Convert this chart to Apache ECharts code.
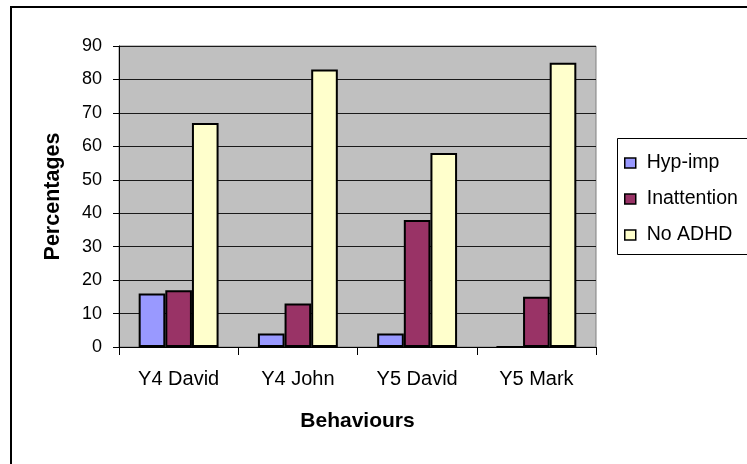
<!DOCTYPE html>
<html>
<head>
<meta charset="utf-8">
<script src="https://cdn.jsdelivr.net/npm/echarts@6/dist/echarts.min.js"></script>
<style>
  html, body { margin: 0; padding: 0; background: #fff; }
  #chart { width: 747px; height: 464px; }
</style>
</head>
<body>
<div id="chart"></div>
<script>
// Share of observed behaviours per pupil, by ADHD category
const categories = ['Y4 David', 'Y4 John', 'Y5 David', 'Y5 Mark'];
const hypImp = [16, 4, 4, 0];
const inattention = [17, 13, 38, 15];
const noAdhd = [67, 83, 58, 85];
const seriesNames = ['Hyp-imp', 'Inattention', 'No ADHD'];
const seriesColors = ['#9999ff', '#993366', '#ffffcc'];
const yTicks = { min: 0, max: 90, interval: 10 };

const font = 'Liberation Sans, Arial, sans-serif';
const chart = echarts.init(document.getElementById('chart'), null, { renderer: 'canvas' });

const seriesData = [hypImp, inattention, noAdhd];

chart.setOption({
  backgroundColor: '#ffffff',
  animation: false,
  textStyle: { fontFamily: font, color: '#000' },
  graphic: [
    {
      type: 'rect', z: 0,
      shape: { x: 11, y: 7, width: 800, height: 500 },
      style: { fill: 'none', stroke: '#000', lineWidth: 2 }
    },
    {
      type: 'rect', z: 1,
      shape: { x: 617.5, y: 138.5, width: 150, height: 116 },
      style: { fill: '#fff', stroke: '#000', lineWidth: 1 }
    }
  ],
  grid: {
    left: 119, top: 46, width: 477, height: 301,
    show: true, backgroundColor: '#c0c0c0',
    borderColor: '#808080', borderWidth: 1
  },
  legend: {
    orient: 'vertical',
    left: 624, top: 153,
    padding: 0,
    itemWidth: 11, itemHeight: 10,
    itemGap: 16,
    icon: 'rect',
    z: 5,
    itemStyle: { borderColor: '#000', borderWidth: 1.5 },
    textStyle: { fontFamily: font, fontSize: 19.5, color: '#000', lineHeight: 20, padding: [0, 0, 0, 6] },
    data: seriesNames
  },
  xAxis: {
    type: 'category',
    data: categories,
    name: 'Behaviours',
    nameLocation: 'middle',
    nameGap: 64,
    nameTextStyle: { fontFamily: font, fontSize: 21, fontWeight: 'bold', color: '#000' },
    axisLine: { lineStyle: { color: '#000', width: 1 } },
    axisTick: { show: true, length: 8, lineStyle: { color: '#000' } },
    axisLabel: { fontFamily: font, fontSize: 20, color: '#000', margin: 22 },
    splitLine: { show: false }
  },
  yAxis: {
    type: 'value',
    min: yTicks.min, max: yTicks.max, interval: yTicks.interval,
    name: 'Percentages',
    nameLocation: 'middle',
    nameGap: 55,
    nameTextStyle: { fontFamily: font, fontSize: 21.5, fontWeight: 'bold', color: '#000' },
    axisLine: { show: true, lineStyle: { color: '#000', width: 1 } },
    axisTick: { show: true, length: 6, lineStyle: { color: '#000' } },
    axisLabel: { fontFamily: font, fontSize: 18, color: '#000', margin: 17 },
    splitLine: { show: true, lineStyle: { color: '#1a1a1a', width: 1 } }
  },
  series: seriesNames.map((name, i) => ({
    name: name,
    type: 'bar',
    data: seriesData[i],
    barGap: '0%',
    barCategoryGap: '33%',
    itemStyle: { color: seriesColors[i], borderColor: '#000', borderWidth: 2 }
  }))
});
</script>
</body>
</html>
